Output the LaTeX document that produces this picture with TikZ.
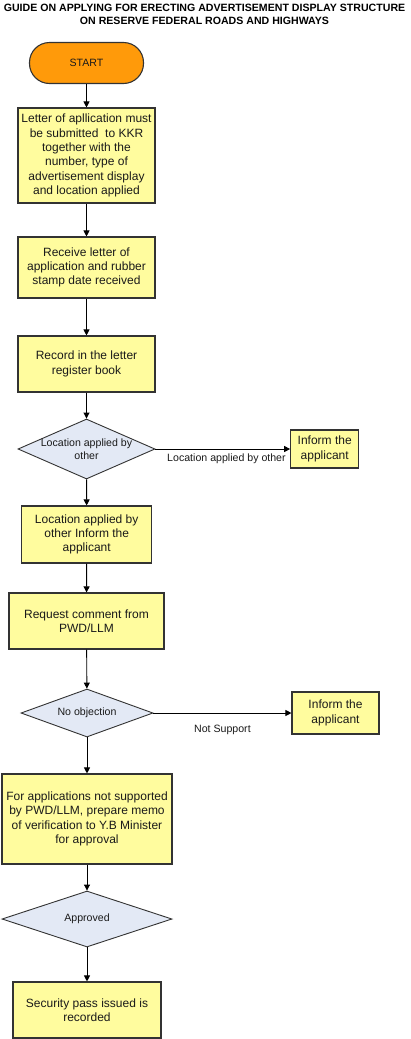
\documentclass[tikz,border=0pt]{standalone}
\usepackage{fontspec}
\setmainfont{Liberation Sans}
\usetikzlibrary{shapes.geometric,arrows.meta}
\definecolor{boxyellow}{HTML}{FFFC9E}
\definecolor{startorange}{HTML}{FF9A0A}
\definecolor{dfill}{HTML}{E3E9F5}
\definecolor{edgec}{HTML}{333333}
\definecolor{txt}{HTML}{1A1A1A}
\tikzset{
  stepbox/.style={draw=edgec, line width=1.1pt, fill=boxyellow, rectangle, inner sep=0pt, align=center, text=txt, font=\fontsize{12}{14.3}\selectfont},
  decbox/.style={draw=edgec, line width=0.9pt, fill=dfill, diamond, inner sep=0pt, text=txt},
  dtext/.style={align=center, text=txt, font=\fontsize{10.6}{12.6}\selectfont, inner sep=0pt},
  lbl/.style={text=txt, font=\fontsize{10.6}{12.6}\selectfont, inner sep=0pt},
  arr/.style={draw=black, line width=0.9pt, -{Triangle[length=6pt,width=6pt]}},
}
\begin{document}
\begin{tikzpicture}[x=1pt,y=-1pt]
\useasboundingbox[fill=white] (0,0) rectangle (410,1039);
\node[font=\bfseries\fontsize{10.6}{13}\selectfont, align=center, inner sep=0pt] (title) at (204.5,14.5)
  {GUIDE ON APPLYING FOR ERECTING ADVERTISEMENT DISPLAY STRUCTURE\\ON RESERVE FEDERAL ROADS AND HIGHWAYS};
\node[draw=edgec, line width=1.1pt, fill=startorange, rounded corners=20pt, minimum width=114pt, minimum height=41pt, inner sep=0pt, text=txt, font=\fontsize{10.6}{12.6}\selectfont] (start) at (86.5,63) {START};
\node[stepbox, minimum width=137pt, minimum height=95pt] (b1) at (86.5,155.5)
  {Letter of apllication must\\be submitted\ \ to KKR\\together with the\\number, type of\\advertisement display\\and location applied};
\node[stepbox, minimum width=137pt, minimum height=61pt] (b2) at (86.5,267.5)
  {Receive letter of\\application and rubber\\stamp date received};
\node[stepbox, minimum width=137pt, minimum height=56pt] (b3) at (86.5,364)
  {Record in the letter\\register book};
\node[decbox, minimum width=137pt, minimum height=60pt, label={[dtext]center:Location applied by\\other}] (d1) at (86.5,449) {};
\node[stepbox, minimum width=68pt, minimum height=38pt] (inf1) at (324.7,449)
  {Inform the\\applicant};
\node[stepbox, minimum width=130pt, minimum height=57pt] (b4) at (86.7,534.5)
  {Location applied by\\other Inform the\\applicant};
\node[stepbox, minimum width=155pt, minimum height=56pt] (b5) at (86.5,621)
  {Request comment from\\PWD/LLM};
\node[decbox, minimum width=132pt, minimum height=48pt, label={[dtext]center:No objection}] (d2) at (87,713) {};
\node[stepbox, minimum width=87pt, minimum height=42pt] (inf2) at (335.5,713)
  {Inform the\\applicant};
\node[stepbox, minimum width=170pt, minimum height=90pt] (b6) at (87,819)
  {For applications not supported\\by PWD/LLM, prepare memo\\of verification to Y.B Minister\\for approval};
\node[decbox, minimum width=170pt, minimum height=56pt, label={[dtext]center:Approved}] (d3) at (87,919) {};
\node[stepbox, minimum width=148pt, minimum height=56pt] (b7) at (87,1010)
  {Security pass issued is\\recorded};
\draw[arr] (start) -- (b1);
\draw[arr] (b1) -- (b2);
\draw[arr] (b2) -- (b3);
\draw[arr] (b3) -- (d1);
\draw[arr] (d1) -- (b4);
\draw[arr] (d1.east) -- (inf1.west) node[lbl, pos=1, anchor=north east, xshift=-4pt, yshift=-4pt] {Location applied by other};
\draw[arr] (b4) -- (b5);
\draw[arr] (b5) -- (d2);
\draw[arr] (d2.east) -- (inf2.west) node[lbl, pos=0.5, yshift=-17pt] {Not Support};
\draw[arr] (d2) -- (b6);
\draw[arr] (b6) -- (d3);
\draw[arr] (d3) -- (b7);
\end{tikzpicture}
\end{document}
